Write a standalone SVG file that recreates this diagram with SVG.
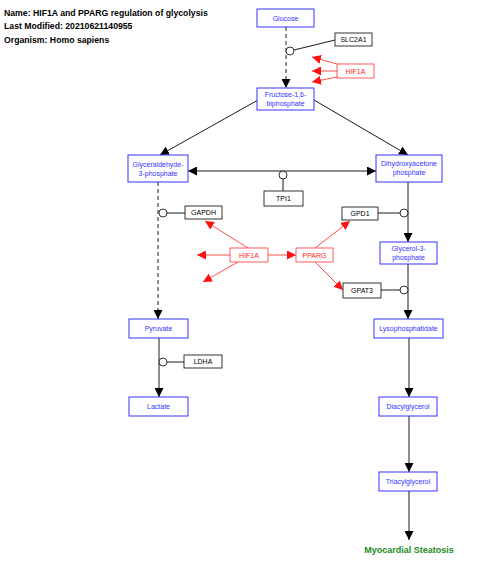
<svg xmlns="http://www.w3.org/2000/svg" width="480" height="578" viewBox="0 0 480 578">
<style>
.t{font-family:"Liberation Sans",Arial,sans-serif;font-weight:bold;font-size:8.7px;fill:#000}
.mb rect{fill:#fff;stroke:#3333ff;stroke-width:1}
.mb text{font-family:"Liberation Sans",Arial,sans-serif;font-size:7px;fill:#3333ff;text-anchor:middle}
.gb rect{fill:#fff;stroke:#000;stroke-width:0.8}
.gb text{font-family:"Liberation Sans",Arial,sans-serif;font-size:7px;fill:#000;text-anchor:middle}
.rb rect{fill:#fff;stroke:#ff3333;stroke-width:0.8}
.rb text{font-family:"Liberation Sans",Arial,sans-serif;font-size:7px;fill:#ff2222;text-anchor:middle}
.k{stroke:#000;stroke-width:0.9;fill:none}
.d{stroke-dasharray:4,3}
.r{stroke:#ff2222;stroke-width:0.8;fill:none}
.c{fill:#fff;stroke:#000;stroke-width:0.8}
</style>
<defs>
<marker id="ak" viewBox="0 0 10 10" refX="10" refY="5" markerWidth="9" markerHeight="9" markerUnits="userSpaceOnUse" orient="auto-start-reverse"><path d="M0,0 L10,5 L0,10 z" fill="#000"/></marker>
<marker id="ar" viewBox="0 0 10 10" refX="10" refY="5" markerWidth="9" markerHeight="9" markerUnits="userSpaceOnUse" orient="auto"><path d="M0,0 L10,5 L0,10 z" fill="#ff1111"/></marker>
</defs>
<g id="title">
<text class="t" x="4" y="16">Name: HIF1A and PPARG regulation of glycolysis</text>
<text class="t" x="4" y="29">Last Modified: 20210621140955</text>
<text class="t" x="4" y="43">Organism: Homo sapiens</text>
</g>
<g id="connectors">
<line class="k d" x1="286" y1="27" x2="286" y2="88" marker-end="url(#ak)"/>
<line class="k" x1="294" y1="50" x2="335" y2="40"/>
<circle class="c" cx="290" cy="51" r="4"/>
<line class="r" x1="337" y1="64" x2="312" y2="57" marker-end="url(#ar)"/>
<line class="r" x1="337" y1="71" x2="312" y2="71" marker-end="url(#ar)"/>
<line class="r" x1="337" y1="77" x2="312" y2="82" marker-end="url(#ar)"/>
<line class="k" x1="258" y1="100" x2="160" y2="155" marker-end="url(#ak)"/>
<line class="k" x1="314" y1="100" x2="408" y2="155" marker-end="url(#ak)"/>
<line class="k" x1="188" y1="171" x2="376" y2="171" marker-start="url(#ak)" marker-end="url(#ak)"/>
<circle class="c" cx="283" cy="175" r="4"/>
<line class="k" x1="283" y1="179" x2="283" y2="191"/>
<line class="k d" x1="158" y1="182" x2="158" y2="319" marker-end="url(#ak)"/>
<circle class="c" cx="163" cy="213" r="4"/>
<line class="k" x1="167" y1="213" x2="185" y2="213"/>
<line class="k" x1="408" y1="182" x2="408" y2="242" marker-end="url(#ak)"/>
<circle class="c" cx="404" cy="213" r="4"/>
<line class="k" x1="378" y1="213" x2="400" y2="213"/>
<line class="k" x1="408" y1="264" x2="408" y2="319" marker-end="url(#ak)"/>
<circle class="c" cx="404" cy="290" r="4"/>
<line class="k" x1="381" y1="290" x2="400" y2="290"/>
<line class="r" x1="248" y1="248" x2="205" y2="221" marker-end="url(#ar)"/>
<line class="r" x1="230" y1="255" x2="197" y2="255" marker-end="url(#ar)"/>
<line class="r" x1="238" y1="262" x2="203" y2="282" marker-end="url(#ar)"/>
<line class="r" x1="268" y1="255" x2="296" y2="255" marker-end="url(#ar)"/>
<line class="r" x1="315" y1="248" x2="350" y2="221" marker-end="url(#ar)"/>
<line class="r" x1="315" y1="262" x2="343" y2="290" marker-end="url(#ar)"/>
<line class="k" x1="159" y1="338" x2="159" y2="397" marker-end="url(#ak)"/>
<circle class="c" cx="163" cy="362" r="4"/>
<line class="k" x1="167" y1="362" x2="184" y2="362"/>
<line class="k" x1="409" y1="338" x2="409" y2="397" marker-end="url(#ak)"/>
<line class="k" x1="409" y1="416" x2="409" y2="472" marker-end="url(#ak)"/>
<line class="k" x1="409" y1="491" x2="409" y2="540" marker-end="url(#ak)"/>
</g>
<g id="glucose" class="mb"><rect x="257" y="9" width="57" height="18"/><text x="285.5" y="20.5">Glucose</text></g>
<g id="slc2a1" class="gb"><rect x="335" y="33" width="37" height="13"/><text x="353.5" y="42">SLC2A1</text></g>
<g id="hif1a-top" class="rb"><rect x="337" y="64" width="37" height="14"/><text x="355.5" y="73.5">HIF1A</text></g>
<g id="fructose" class="mb"><rect x="257" y="88" width="57" height="22"/><text x="285.5" y="97">Fructose-1,6-</text><text x="285.5" y="105.5">biphosphate</text></g>
<g id="g3p" class="mb"><rect x="128" y="155" width="60" height="27"/><text x="158" y="167">Glyceraldehyde-</text><text x="158" y="176">3-phosphate</text></g>
<g id="dhap" class="mb"><rect x="376" y="155" width="66" height="27"/><text x="409" y="166">Dihydroxyacetone</text><text x="409" y="175">phosphate</text></g>
<g id="tpi1" class="gb"><rect x="264" y="191" width="39" height="15"/><text x="283.5" y="201">TPI1</text></g>
<g id="gapdh" class="gb"><rect x="185" y="206" width="37" height="13"/><text x="203.5" y="215">GAPDH</text></g>
<g id="gpd1" class="gb"><rect x="342" y="207" width="36" height="13"/><text x="360" y="216">GPD1</text></g>
<g id="glycerol3p" class="mb"><rect x="380" y="242" width="57" height="22"/><text x="408.5" y="251">Glycerol-3-</text><text x="408.5" y="260">phosphate</text></g>
<g id="hif1a" class="rb"><rect x="230" y="248" width="38" height="14"/><text x="249" y="257.5">HIF1A</text></g>
<g id="pparg" class="rb"><rect x="296" y="248" width="37" height="14"/><text x="314.5" y="257.5">PPARG</text></g>
<g id="gpat3" class="gb"><rect x="343" y="283" width="38" height="15"/><text x="362" y="293">GPAT3</text></g>
<g id="pyruvate" class="mb"><rect x="129" y="319" width="59" height="19"/><text x="158.5" y="331">Pyruvate</text></g>
<g id="ldha" class="gb"><rect x="184" y="355" width="38" height="13"/><text x="203" y="364">LDHA</text></g>
<g id="lactate" class="mb"><rect x="129" y="397" width="59" height="19"/><text x="158.5" y="409">Lactate</text></g>
<g id="lyso" class="mb"><rect x="374" y="319" width="69" height="19"/><text x="408.5" y="331">Lysophosphatidate</text></g>
<g id="dag" class="mb"><rect x="379" y="397" width="58" height="19"/><text x="408" y="409">Diacylglycerol</text></g>
<g id="tag" class="mb"><rect x="379" y="472" width="58" height="19"/><text x="408" y="484">Triacylglycerol</text></g>
<g id="steatosis"><text x="409" y="553" font-family="Liberation Sans, Arial, sans-serif" font-weight="bold" font-size="9px" fill="#1a8a1a" text-anchor="middle">Myocardial Steatosis</text></g>
</svg>
